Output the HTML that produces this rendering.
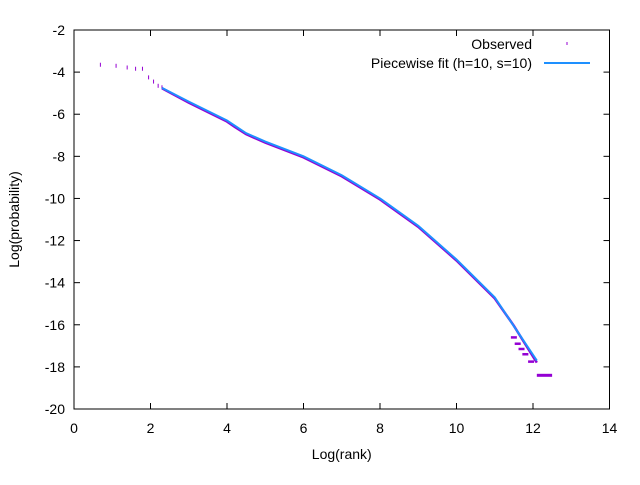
<!DOCTYPE html>
<html><head><meta charset="utf-8"><style>
body{margin:0;background:#fff;font-family:"Liberation Sans",sans-serif}
svg text{font-family:"Liberation Sans",sans-serif;font-size:14px;fill:#000}
</style></head><body>
<svg id="c" width="640" height="480" xmlns="http://www.w3.org/2000/svg"></svg>
<script>
const xTicks=[0,2,4,6,8,10,12,14];
const yTicks=[-2,-4,-6,-8,-10,-12,-14,-16,-18,-20];
const obsX=[0.69,1.1,1.39,1.61,1.79,1.95,2.08,2.2,2.3];
const obsY=[-3.65,-3.7,-3.78,-3.84,-3.84,-4.25,-4.45,-4.65,-4.72];
const obsLineX=[2.3,3,4,4.2,4.5,5,6,7,8,9,10,11,11.5,12.1];
const obsLineY=[-4.72,-5.4,-6.3,-6.55,-6.9,-7.3,-8.0,-8.9,-10.0,-11.3,-12.9,-14.7,-16.0,-17.75];
const tailX=[11.5,11.6,11.7,11.8,11.95];
const tailY=[-16.6,-16.9,-17.15,-17.4,-17.75];
const barX=[12.1,12.5], barY=-18.4;
const fitX=[2.3,3,4,4.5,5,6,7,8,9,10,11,12.1];
const fitY=[-4.75,-5.4,-6.3,-6.9,-7.3,-8.0,-8.9,-10.0,-11.3,-12.9,-14.7,-17.7];
const L=74,R=609.5,T=30,B=409;
const sx=v=>L+(v-0)/14*(R-L), sy=v=>T+(-2-v)/18*(B-T);
const svg=document.getElementById('c');const NS='http://www.w3.org/2000/svg';
function mk(t,a,txt){const e=document.createElementNS(NS,t);for(const k in a)e.setAttribute(k,a[k]);if(txt!=null)e.textContent=txt;svg.appendChild(e);return e;}
let e;
xTicks.forEach(v=>{const x=sx(v);
e=mk('line',{x1:x,x2:x,y1:B,y2:B-6,stroke:'#000'});
e=mk('line',{x1:x,x2:x,y1:T,y2:T+6,stroke:'#000'});
e=mk('text',{x:x,y:B+24,'text-anchor':'middle'},v);});
yTicks.forEach(v=>{const y=sy(v);
e=mk('line',{x1:L,x2:L+6,y1:y,y2:y,stroke:'#000'});
e=mk('line',{x1:R,x2:R-6,y1:y,y2:y,stroke:'#000'});
e=mk('text',{x:L-9,y:y+5,'text-anchor':'end'},v);});
e=mk('rect',{x:L,y:T,width:R-L,height:B-T,fill:'none',stroke:'#000'});
e=mk('text',{x:(L+R)/2,y:459,'text-anchor':'middle'},'Log(rank)');
e=mk('text',{x:19,y:(T+B)/2,'text-anchor':'middle',transform:`rotate(-90 19 ${(T+B)/2})`},'Log(probability)');
obsX.forEach((v,i)=>{e=mk('line',{x1:sx(v),x2:sx(v),y1:sy(obsY[i])-2,y2:sy(obsY[i])+2,stroke:'#9400d3','stroke-width':1});});
e=mk('polyline',{points:obsLineX.map((v,i)=>sx(v)+','+(sy(obsLineY[i])+1)).join(' '),fill:'none',stroke:'#9400d3','stroke-width':2.5});
tailX.forEach((v,i)=>{e=mk('line',{x1:sx(v)-3,x2:sx(v)+3,y1:sy(tailY[i]),y2:sy(tailY[i]),stroke:'#9400d3','stroke-width':2.5});});
e=mk('line',{x1:sx(barX[0]),x2:sx(barX[1]),y1:sy(barY),y2:sy(barY),stroke:'#9400d3','stroke-width':3});
e=mk('polyline',{points:fitX.map((v,i)=>sx(v)+','+sy(fitY[i])).join(' '),fill:'none',stroke:'#1e90ff','stroke-width':2});
e=mk('text',{x:532,y:49,'text-anchor':'end'},'Observed');
e=mk('line',{x1:567,x2:567,y1:42,y2:45,stroke:'#9400d3'});
e=mk('text',{x:532,y:68,'text-anchor':'end'},'Piecewise fit (h=10, s=10)');
e=mk('line',{x1:544,x2:590,y1:63,y2:63,stroke:'#1e90ff','stroke-width':2});
</script></body></html>
